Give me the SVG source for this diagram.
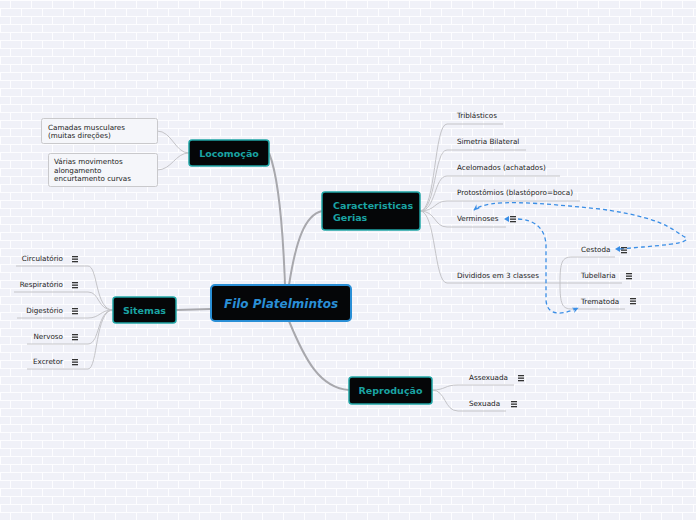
<svg xmlns="http://www.w3.org/2000/svg" width="696" height="520" viewBox="0 0 696 520">
<defs>
<pattern id="bricks" width="42" height="16" patternUnits="userSpaceOnUse">
<rect width="42" height="16" fill="#f0f1f8"/>
<path d="M0 0.5H42M0 8.5H42M10.5 0V8M31.5 0V8M0.5 8V16M21.5 8V16" stroke="#fdfdff" stroke-width="1" fill="none"/>
</pattern>
<marker id="arr" viewBox="0 0 10 10" refX="8" refY="5" markerWidth="7" markerHeight="7" orient="auto-start-reverse" markerUnits="userSpaceOnUse">
<path d="M0 1 L9 5 L0 9 L3 5 Z" fill="#3a8ee6"/>
</marker>
<g id="ico">
<rect x="0" y="0" width="6" height="1.3" fill="#333"/>
<rect x="0" y="2.5" width="6" height="1.3" fill="#333"/>
<rect x="0" y="5" width="6" height="1.3" fill="#333"/>
</g>
</defs>
<style>
.main{fill:#050608;stroke:#1fa5a5;stroke-width:1.5}
.root{fill:#050608;stroke:#2a8fd6;stroke-width:2}
.mt{font-family:"DejaVu Sans",sans-serif;font-weight:bold;font-size:9.5px;fill:#1aa3a3}
.rt{font-family:"DejaVu Sans",sans-serif;font-weight:bold;font-style:italic;font-size:12px;fill:#2a8fd6}
.lt{font-family:"DejaVu Sans",sans-serif;font-size:7.2px;fill:#222}
.box{fill:#f5f6fa;stroke:#c9c9cc;stroke-width:1}
.mc{fill:none;stroke:#a8a8ad;stroke-width:2}
.lc{fill:none;stroke:#c4c4c8;stroke-width:1}
.dash{fill:none;stroke:#3a8ee6;stroke-width:1.3;stroke-dasharray:4 3}
</style>
<rect width="696" height="520" fill="url(#bricks)"/>
<g id="connectors">
<path class="mc" d="M285 285 C283 230 278 175 269 153"/>
<path class="mc" d="M289 285 C296 240 305 215 322 211"/>
<path class="mc" d="M289 321 C305 360 320 388 349 390"/>
<path class="mc" d="M211 309 L176 310"/>
<path class="lc" d="M189 153 C175 153 172 131 157 131"/>
<path class="lc" d="M189 153 C175 153 172 170 157 170"/>
<path class="lc" d="M113 310 C95 310 98 266 88 266 L16 266"/>
<path class="lc" d="M113 310 C97 310 100 292 88 292 L14 292"/>
<path class="lc" d="M113 310 C100 310 100 318 88 318 L17 318"/>
<path class="lc" d="M113 310 C97 310 100 344 88 344 L27 344"/>
<path class="lc" d="M113 310 C95 310 98 369 88 369 L27 369"/>
<path class="lc" d="M420 211 C436 211 434 124 447 124 L503 124"/>
<path class="lc" d="M420 211 C436 211 434 150 447 150 L526 150"/>
<path class="lc" d="M420 211 C436 211 434 176 447 176 L560 176"/>
<path class="lc" d="M420 211 C436 211 434 201 447 201 L580 201"/>
<path class="lc" d="M420 211 C436 211 434 227 447 227 L506 227"/>
<path class="lc" d="M420 211 C436 211 434 283 447 283 L622 283"/>
<path class="lc" d="M560 283 C560 262 562 257 572 257 L615 257"/>
<path class="lc" d="M560 283 C560 304 562 309 572 309 L625 309"/>
<path class="lc" d="M432 390 C446 390 444 385 458 385 L514 385"/>
<path class="lc" d="M432 390 C446 390 444 411 458 411 L506 411"/>
<path class="dash" d="M620 249 C650 246 700 244 683 236 C672 229 660 217 600 209 C540 203 488 198 474 210" marker-end="url(#arr)"/>
<path class="dash" d="M518 219 C535 220 545 228 546 245 L546 300 C547 318 565 314 578 308" marker-end="url(#arr)"/>
<path d="M509 216 L504 219 L509 222 Z" fill="#3a8ee6"/>
<path d="M620 246 L615 249 L620 252 Z" fill="#3a8ee6"/>
</g>
<g id="root">
<rect class="root" x="211" y="285" width="140" height="36" rx="4"/>
<text class="rt" x="281" y="307.5" text-anchor="middle">Filo Platelmintos</text>
</g>
<g id="locomocao">
<rect class="main" x="189" y="140" width="80" height="26" rx="3"/>
<text class="mt" x="229" y="156.5" text-anchor="middle">Locomoção</text>
</g>
<g id="caracteristicas">
<rect class="main" x="322" y="192" width="98" height="38" rx="3"/>
<text class="mt" x="333" y="208.5">Caracteristicas</text>
<text class="mt" x="333" y="220.5">Gerias</text>
</g>
<g id="sitemas">
<rect class="main" x="113" y="297" width="63" height="26" rx="3"/>
<text class="mt" x="144.5" y="313.5" text-anchor="middle">Sitemas</text>
</g>
<g id="reproducao">
<rect class="main" x="349" y="377" width="83" height="27" rx="3"/>
<text class="mt" x="390.5" y="394" text-anchor="middle">Reprodução</text>
</g>
<g id="camadas">
<rect class="box" x="41.5" y="118.5" width="116" height="25" rx="2"/>
<text class="lt" x="48" y="129.5">Camadas musculares</text>
<text class="lt" x="48" y="137.5">(muitas direções)</text>
</g>
<g id="varias">
<rect class="box" x="48.5" y="153.5" width="109" height="33" rx="2"/>
<text class="lt" x="54" y="164">Várias movimentos</text>
<text class="lt" x="54" y="172.5">alongamento</text>
<text class="lt" x="54" y="181">encurtamento curvas</text>
</g>
<g id="circulatorio"><text class="lt" x="63" y="261" text-anchor="end">Circulatório</text><use href="#ico" x="72" y="256"/></g>
<g id="respiratorio"><text class="lt" x="63" y="287" text-anchor="end">Respiratório</text><use href="#ico" x="72" y="282"/></g>
<g id="digestorio"><text class="lt" x="63" y="313" text-anchor="end">Digestório</text><use href="#ico" x="72" y="308"/></g>
<g id="nervoso"><text class="lt" x="63" y="339" text-anchor="end">Nervoso</text><use href="#ico" x="72" y="334"/></g>
<g id="excretor"><text class="lt" x="63" y="364" text-anchor="end">Excretor</text><use href="#ico" x="72" y="359"/></g>
<g id="triblasticos"><text class="lt" x="457" y="118">Triblásticos</text></g>
<g id="simetria"><text class="lt" x="457" y="144">Simetria Bilateral</text></g>
<g id="acelomados"><text class="lt" x="457" y="170">Acelomados (achatados)</text></g>
<g id="protostomios"><text class="lt" x="457" y="195">Protostômios (blastóporo=boca)</text></g>
<g id="verminoses"><text class="lt" x="457" y="221">Verminoses</text><use href="#ico" x="510" y="216"/></g>
<g id="divididos"><text class="lt" x="457" y="278">Divididos em 3 classes</text></g>
<g id="cestoda"><text class="lt" x="581" y="252">Cestoda</text><use href="#ico" x="621" y="247"/></g>
<g id="tubellaria"><text class="lt" x="581" y="278">Tubellaria</text><use href="#ico" x="626" y="273"/></g>
<g id="trematoda"><text class="lt" x="581" y="304">Trematoda</text><use href="#ico" x="630" y="298"/></g>
<g id="assexuada"><text class="lt" x="469" y="380">Assexuada</text><use href="#ico" x="518" y="375"/></g>
<g id="sexuada"><text class="lt" x="469" y="406">Sexuada</text><use href="#ico" x="511" y="401"/></g>
</svg>
